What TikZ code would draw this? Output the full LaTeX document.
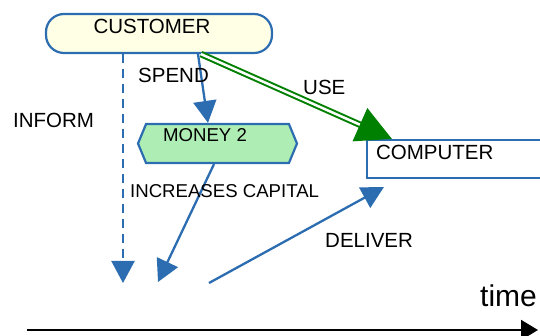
\documentclass[tikz,border=0pt]{standalone}
\usepackage{fontspec}
\setmainfont{Liberation Sans}
\usetikzlibrary{arrows.meta,shapes.symbols}
\definecolor{linkblue}{RGB}{44,108,176}
\definecolor{custfill}{RGB}{255,255,230}
\definecolor{moneyfill}{RGB}{174,238,180}
\definecolor{usegreen}{RGB}{0,128,0}
\tikzset{%
  >={Triangle[width=23pt,length=22pt]},
       base/.style = {draw=linkblue, line width=2.2pt, inner sep=0pt},
    custbox/.style = {base, rectangle, rounded corners=18pt, fill=custfill,
                      minimum width=226pt, minimum height=39pt},
   moneybox/.style = {base, signal, signal to=west and east,
                      signal pointer angle=135, fill=moneyfill,
                      minimum width=159pt, minimum height=39pt},
    compbox/.style = {base, rectangle, fill=white,
                      minimum width=190pt, minimum height=38pt},
    boxtext/.style = {font=\fontsize{20.5}{24}\selectfont, inner sep=0pt},
   smalltext/.style = {font=\fontsize{18.6}{22}\selectfont, inner sep=0pt},
        lbl/.style = {boxtext, anchor=base west},
       flow/.style = {->, draw=linkblue, line width=2.3pt},
     inform/.style = {flow, dash pattern=on 9pt off 6pt},
    uselink/.style = {-{Triangle[width=36pt,length=35pt]}, draw=usegreen,
                      double=white, double distance=2.5pt, line width=2pt},
   timeaxis/.style = {-{Triangle[width=20pt,length=17pt]}, draw=black, line width=2pt},
}
\begin{document}
\begin{tikzpicture}[x=1pt, y=-1pt]
  \useasboundingbox (0,0) rectangle (540,336);

  % boxes
  \node (customer) [custbox, label={[boxtext, anchor=center, xshift=-7pt, yshift=7pt]center:CUSTOMER}]
        at (159,33.5) {};
  \node (money)    [moneybox, label={[smalltext, anchor=center, xshift=-12.5pt, yshift=8pt]center:MONEY 2}]
        at (217.5,143.5) {};
  \node (computer) [compbox, label={[boxtext, anchor=west, xshift=10pt, yshift=7pt]west:COMPUTER}]
        at (462,159) {};

  % free ends
  \coordinate (informend)    at (123,283);
  \coordinate (capitalend)   at (158,282);
  \coordinate (deliverstart) at (209,283);
  \coordinate (tstart)       at (27,330);
  \coordinate (tend)         at (538,330);

  % connectors
  \draw[inform]  (customer.south -| informend) -- (informend);
  \draw[flow]    ([xshift=39pt]customer.south) -- ([xshift=-9.5pt]money.north);
  \draw[uselink] ([xshift=42pt]customer.south) -- ([xshift=26pt]computer.north west);
  \draw[flow]    ([xshift=-3.5pt]money.south)  -- (capitalend);
  \draw[flow]    (deliverstart) -- ([xshift=18pt, yshift=-8pt]computer.south west);
  \draw[timeaxis] (tstart) -- (tend);

  % labels
  \node (informlbl)  [lbl] at (13,128)  {INFORM};
  \node (spendlbl)   [lbl] at (138,83)  {SPEND};
  \node (uselbl)     [lbl] at (303,95)  {USE};
  \node (capitallbl) [smalltext, anchor=base west] at (130,198) {INCREASES CAPITAL};
  \node (deliverlbl) [lbl] at (325,248) {DELIVER};
  \node (timelbl)    [font=\fontsize{30}{36}\selectfont, inner sep=0pt, anchor=base west]
        at (480,306) {time};
\end{tikzpicture}
\end{document}
